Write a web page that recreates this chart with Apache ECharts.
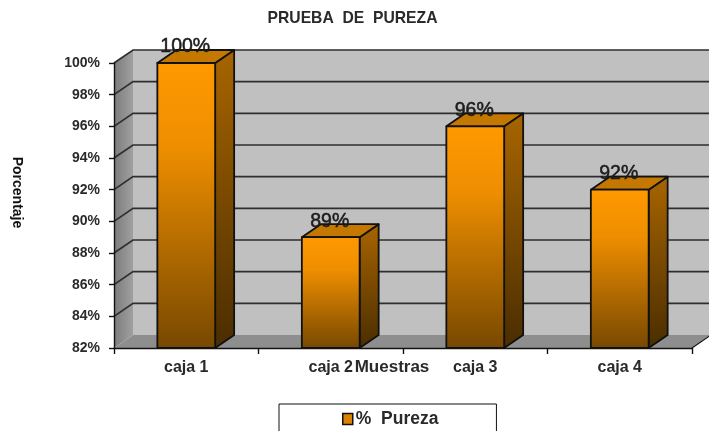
<!DOCTYPE html>
<html>
<head>
<meta charset="utf-8">
<style>
    html, body { margin: 0; padding: 0; background: #fff; overflow: hidden; }
    #chart { width: 709px; height: 431px; }
</style>
<script src="https://cdn.jsdelivr.net/npm/echarts@6/dist/echarts.min.js"></script>
</head>
<body>
<div id="chart"></div>
<script>
const categories = ['caja 1', 'caja 2', 'caja 3', 'caja 4'];
const pureza = [100, 89, 96, 92];
const valueLabels = ['100%', '89%', '96%', '92%'];
const yTicks = [82, 84, 86, 88, 90, 92, 94, 96, 98, 100];

// fondo 3D del grafico
const DX = 19, DY = 13;
const FONT = '"Liberation Sans", Arial, sans-serif';
const grad = (stops) => new echarts.graphic.LinearGradient(0, 0, 0, 1, stops);

function poly(points, style) {
    return { type: 'polygon', shape: { points: points }, style: style };
}

function renderWall(params, api) {
    const val = api.value(0);
    const left = api.coord([0, val])[0] - api.size([1, 0])[0] / 2;
    const right = left + api.size([1, 0])[0] * categories.length;
    const y = api.coord([0, val])[1];
    const children = [];
    if (params.dataIndex === 0) {
        const top = api.coord([0, yTicks[yTicks.length - 1]])[1];
        children.push(poly([[left + DX, top - DY], [right + DX, top - DY], [right + DX, y - DY], [left + DX, y - DY]],
            { fill: '#c0c0c0' }));
        children.push(poly([[left, top], [left + DX, top - DY], [left + DX, y - DY], [left, y]],
            { fill: new echarts.graphic.LinearGradient(0, 0, 1, 0, [
                { offset: 0, color: '#7c7c7c' }, { offset: 1, color: '#a0a0a0' }
            ]) }));
        children.push(poly([[left, y], [left + DX, y - DY], [right + DX, y - DY], [right, y]],
            { fill: '#8e8e8e' }));
        children.push({ type: 'polyline', shape: { points: [[right, y], [right + DX, y - DY]] },
            style: { stroke: '#111', lineWidth: 1.2, fill: null } });
    } else {
        children.push({ type: 'polyline',
            shape: { points: [[left, y], [left + DX, y - DY], [right + DX, y - DY]] },
            style: { stroke: '#2e2e2e', lineWidth: 1.7, fill: null } });
    }
    return { type: 'group', children: children };
}

function renderBar(params, api) {
    const idx = api.value(0);
    const top = api.coord([idx, api.value(1)]);
    const base = api.coord([idx, yTicks[0]]);
    const w = api.size([1, 0])[0] * 0.4;
    const x0 = top[0] - w / 2, x1 = top[0] + w / 2;
    const line = { stroke: '#111', lineWidth: 1.8, lineJoin: 'round' };
    return {
        type: 'group',
        children: [
            poly([[x1, top[1]], [x1 + DX, top[1] - DY], [x1 + DX, base[1] - DY], [x1, base[1]]],
                Object.assign({ fill: grad([{ offset: 0, color: '#a86500' }, { offset: 1, color: '#4a2d00' }]) }, line)),
            poly([[x0, top[1]], [x0 + DX, top[1] - DY], [x1 + DX, top[1] - DY], [x1, top[1]]],
                Object.assign({ fill: '#c47800' }, line)),
            poly([[x0, top[1]], [x1, top[1]], [x1, base[1]], [x0, base[1]]],
                Object.assign({ fill: grad([
                    { offset: 0, color: '#ff9900' }, { offset: 0.3, color: '#ee8e00' }, { offset: 1, color: '#774800' }
                ]) }, line)),
            { type: 'text', x: top[0] - 1, y: top[1] - 6, z2: 10,
                style: { text: valueLabels[idx], font: '19.5px ' + FONT, fill: '#1c1c1c',
                    stroke: '#1c1c1c', lineWidth: 0.5,
                    align: 'center', verticalAlign: 'bottom' } }
        ]
    };
}

const chart = echarts.init(document.getElementById('chart'), null, { renderer: 'canvas' });
chart.setOption({
    animation: false,
    backgroundColor: '#fff',
    title: {
        text: 'PRUEBA  DE  PUREZA',
        left: 347.5, top: 6, textAlign: 'center',
        textStyle: { fontFamily: FONT, fontSize: 15.7, fontWeight: 'bold', color: '#2a2a2a' }
    },
    legend: {
        left: 279, top: 404,
        padding: [6, 58, 12, 63],
        borderColor: '#111', borderWidth: 1,
        icon: 'rect', itemWidth: 10, itemHeight: 11, itemGap: 0,
        data: [{
            name: '%  Pureza',
            itemStyle: { color: '#d98300', borderColor: '#111', borderWidth: 1.5 }
        }],
        textStyle: { fontFamily: FONT, fontSize: 17.5, fontWeight: 'bold', color: '#2a2a2a', padding: [0, 0, 0, -2] }
    },
    grid: { left: 114, right: 17, top: 63, bottom: 83 },
    xAxis: {
        type: 'category',
        data: categories,
        name: 'Muestras',
        nameLocation: 'middle',
        nameMoveOverlap: false,
        nameGap: 11,
        nameTextStyle: { fontFamily: FONT, fontSize: 17, fontWeight: 'bold', color: '#2a2a2a', padding: [0, 22, 0, 0] },
        z: 2,
        axisLine: { lineStyle: { color: '#111', width: 1.4 } },
        axisTick: { show: true, alignWithLabel: false, length: 6, lineStyle: { color: '#111', width: 1.4 } },
        axisLabel: { fontFamily: FONT, fontSize: 16, fontWeight: 'bold', color: '#2a2a2a', margin: 12 }
    },
    yAxis: {
        type: 'value',
        min: 82, max: 100, interval: 2,
        name: 'Porcentaje',
        nameLocation: 'middle',
        nameRotate: -90,
        nameGap: 90,
        nameTextStyle: { fontFamily: FONT, fontSize: 14, fontWeight: 'bold', color: '#111', padding: [0, 26, 0, 0] },
        z: 2,
        splitLine: { show: false },
        axisLine: { show: true, lineStyle: { color: '#111', width: 1.4 } },
        axisTick: { show: true, length: 5, lineStyle: { color: '#111', width: 1.4 } },
        axisLabel: {
            formatter: '{value}%', fontFamily: FONT, fontSize: 14, fontWeight: 'bold', color: '#2a2a2a', margin: 14
        }
    },
    series: [{
        type: 'custom',
        name: 'pared',
        z: 1,
        silent: true,
        renderItem: renderWall,
        encode: { y: 0 },
        data: yTicks.map(v => [v])
    }, {
        type: 'custom',
        name: '%  Pureza',
        z: 3,
        renderItem: renderBar,
        encode: { x: 0, y: 1 },
        data: pureza.map((v, i) => [i, v])
    }]
});
</script>
</body>
</html>
